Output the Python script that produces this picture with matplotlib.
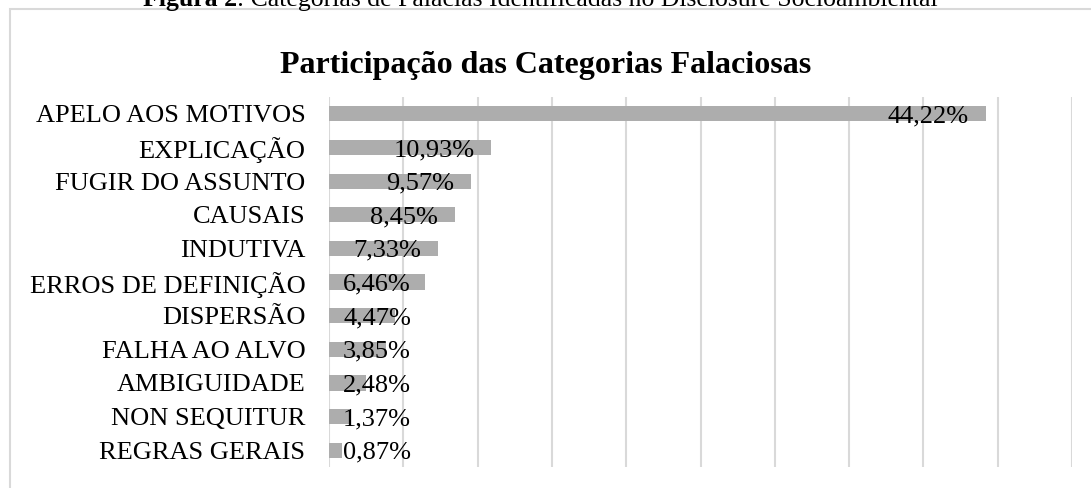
import matplotlib
matplotlib.use("Agg")
from matplotlib import pyplot as plt
from matplotlib.patches import Rectangle

# data, top to bottom as in the chart
categorias = ["APELO AOS MOTIVOS", "EXPLICAÇÃO", "FUGIR DO ASSUNTO", "CAUSAIS",
              "INDUTIVA", "ERROS DE DEFINIÇÃO", "DISPERSÃO", "FALHA AO ALVO",
              "AMBIGUIDADE", "NON SEQUITUR", "REGRAS GERAIS"]
valores = [44.22, 10.93, 9.57, 8.45, 7.33, 6.46, 4.47, 3.85, 2.48, 1.37, 0.87]

plt.rcParams['font.family'] = ['Liberation Serif', 'DejaVu Serif']

fig = plt.figure(figsize=(10.91, 4.88), dpi=100)
ax = fig.add_axes([0.3016, 0.043, 0.681, 0.758])

pos = list(range(len(categorias)))
ax.barh(pos, valores, height=0.45, color='#adadad', zorder=2)
ax.set_ylim(len(categorias) - 0.5, -0.5)
ax.set_xlim(0, 50)
ax.set_xticks(range(0, 51, 5))
ax.set_xticklabels([])
ax.tick_params(axis='both', length=0)
ax.set_yticks(pos)
ax.set_yticklabels(categorias, fontsize=19)
ax.tick_params(axis='y', pad=17)
ax.grid(axis='x', color='#d9d9d9', linewidth=1.5, zorder=0)
for s in ax.spines.values():
    s.set_visible(False)

# data labels: right end inside the bar, but never left of a minimum position
fig.canvas.draw()
r = fig.canvas.get_renderer()
px = ax.transData.transform((1, 0))[0] - ax.transData.transform((0, 0))[0]
for i, v in enumerate(valores):
    t = ax.text(0, i, f"{v:.2f}%".replace('.', ','), fontsize=19,
                va='center_baseline', ha='left', zorder=3)
    w = t.get_window_extent(r).width / px
    t.set_x(max(v - 1.15 - w, 0.95))

fig.suptitle("Participação das Categorias Falaciosas", fontsize=23, fontweight='bold', y=0.895)

# chart border (extends past right and bottom)
fig.patches.append(Rectangle((10 / 1091, -0.1), 1.2, 1 - 9 / 488 + 0.1, transform=fig.transFigure,
                             fill=False, edgecolor='#d9d9d9', linewidth=1.5))

# caption partly cut at the top
yb = 1 - 6 / 488
c1 = fig.text(143 / 1091, yb, "Figura 2", fontweight='bold', fontsize=18.5, va='baseline')
fig.canvas.draw()
x1 = c1.get_window_extent(r).x1 / fig.bbox.width
fig.text(x1, yb, ": Categorias de Falácias Identificadas no Disclosure Socioambiental",
         fontsize=18.5, va='baseline')

fig.savefig("out.png", dpi=100)
